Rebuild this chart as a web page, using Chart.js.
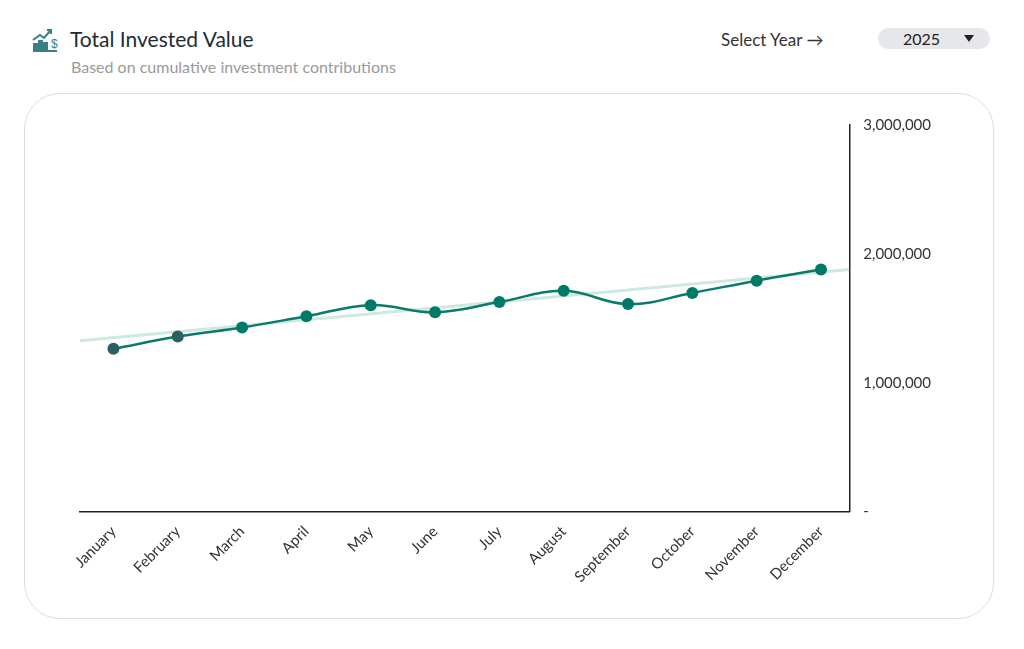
<!DOCTYPE html>
<html><head><meta charset="utf-8">
<script src="https://cdn.jsdelivr.net/npm/chart.js@4"></script>
<style>
body{margin:0;width:1024px;height:649px;background:#fff;font-family:Lato,"Open Sans",sans-serif;position:relative;overflow:hidden}
.title{position:absolute;left:70px;top:26px;font-size:21px;color:#1f2d33}
.sub{position:absolute;left:71px;top:57px;font-size:16px;color:#9a9a9a}
.sel{position:absolute;left:721px;top:29px;font-size:17px;color:#333}
.pill{position:absolute;left:878px;top:28px;width:112px;height:21px;background:#e5e7eb;border-radius:11px;font-size:16px;color:#222}
.pill span{position:absolute;left:25px;top:1px}
.pill i{position:absolute;left:86px;top:7px;border-left:5px solid transparent;border-right:5px solid transparent;border-top:7px solid #222}
.card{position:absolute;left:24px;top:93px;width:968px;height:524px;border:1.5px solid #ddd;border-radius:36px}
#wrap{position:absolute;left:30px;top:110px;width:950px;height:490px}
</style></head><body>
<svg style="position:absolute;left:31px;top:27px" width="28" height="26" viewBox="0 0 28 26" fill="none" stroke="#3a7f85" stroke-width="2">
<path d="M2 24h24"/><rect x="3" y="17" width="3" height="6" fill="#3a7f85"/><rect x="8" y="14" width="3" height="9" fill="#3a7f85"/><rect x="13" y="16" width="3" height="7" fill="#3a7f85"/>
<path d="M2 13l7-5 4 3 7-8"/><path d="M16 3h4v4"/><text x="20" y="21" font-size="12" fill="#3a7f85" stroke="none" font-family="Arial">$</text></svg>
<div class="title">Total Invested Value</div>
<div class="sub">Based on cumulative investment contributions</div>
<div class="sel">Select Year →</div>
<div class="pill"><span>2025</span><i></i></div>
<div class="card"></div>
<div id="wrap"><canvas id="c"></canvas></div>
<script>
const months=["January","February","March","April","May","June","July","August","September","October","November","December"];
const values=[1263000,1358000,1429000,1516000,1602000,1547000,1626000,1713000,1610000,1697000,1792000,1878000];
const trendX=[-0.52,11.44];
const trendY=[1326000,1878000];
const yTicks=[0,1000000,2000000,3000000];
new Chart(document.getElementById('c'),{
type:'line',
data:{datasets:[
{data:values.map((v,i)=>({x:i,y:v})),borderColor:'#0b7a6a',borderWidth:2.5,tension:0.4,
 pointRadius:6,pointHoverRadius:6,pointBorderWidth:0,
 pointBackgroundColor:values.map((v,i)=>i<2?'#2e5e62':'#007a68'),order:1},
{data:trendX.map((x,i)=>({x,y:trendY[i]})),borderColor:'#cde9e0',borderWidth:3,pointRadius:0,order:2}
]},
options:{responsive:true,maintainAspectRatio:false,animation:false,
layout:{padding:{left:50,right:43,top:13,bottom:11}},
plugins:{legend:{display:false},tooltip:{enabled:false}},
scales:{
x:{type:'linear',min:-0.52,max:11.44,grid:{display:false},border:{display:true,color:'#222',width:1.5},
 afterBuildTicks:a=>{a.ticks=months.map((m,i)=>({value:i}));},
 ticks:{callback:v=>months[v],maxRotation:45,minRotation:45,color:'#333',font:{size:15,family:'Lato'},autoSkip:false}},
y:{position:'right',min:0,max:3000000,grid:{display:false,drawTicks:true},border:{display:true,color:'#222',width:1.5},
 afterBuildTicks:a=>{a.ticks=yTicks.map(v=>({value:v}));},
 ticks:{callback:v=>v===0?'-':v.toLocaleString('en-US'),color:'#333',font:{size:15,family:'Lato'},padding:6}}
}}});
</script></body></html>
